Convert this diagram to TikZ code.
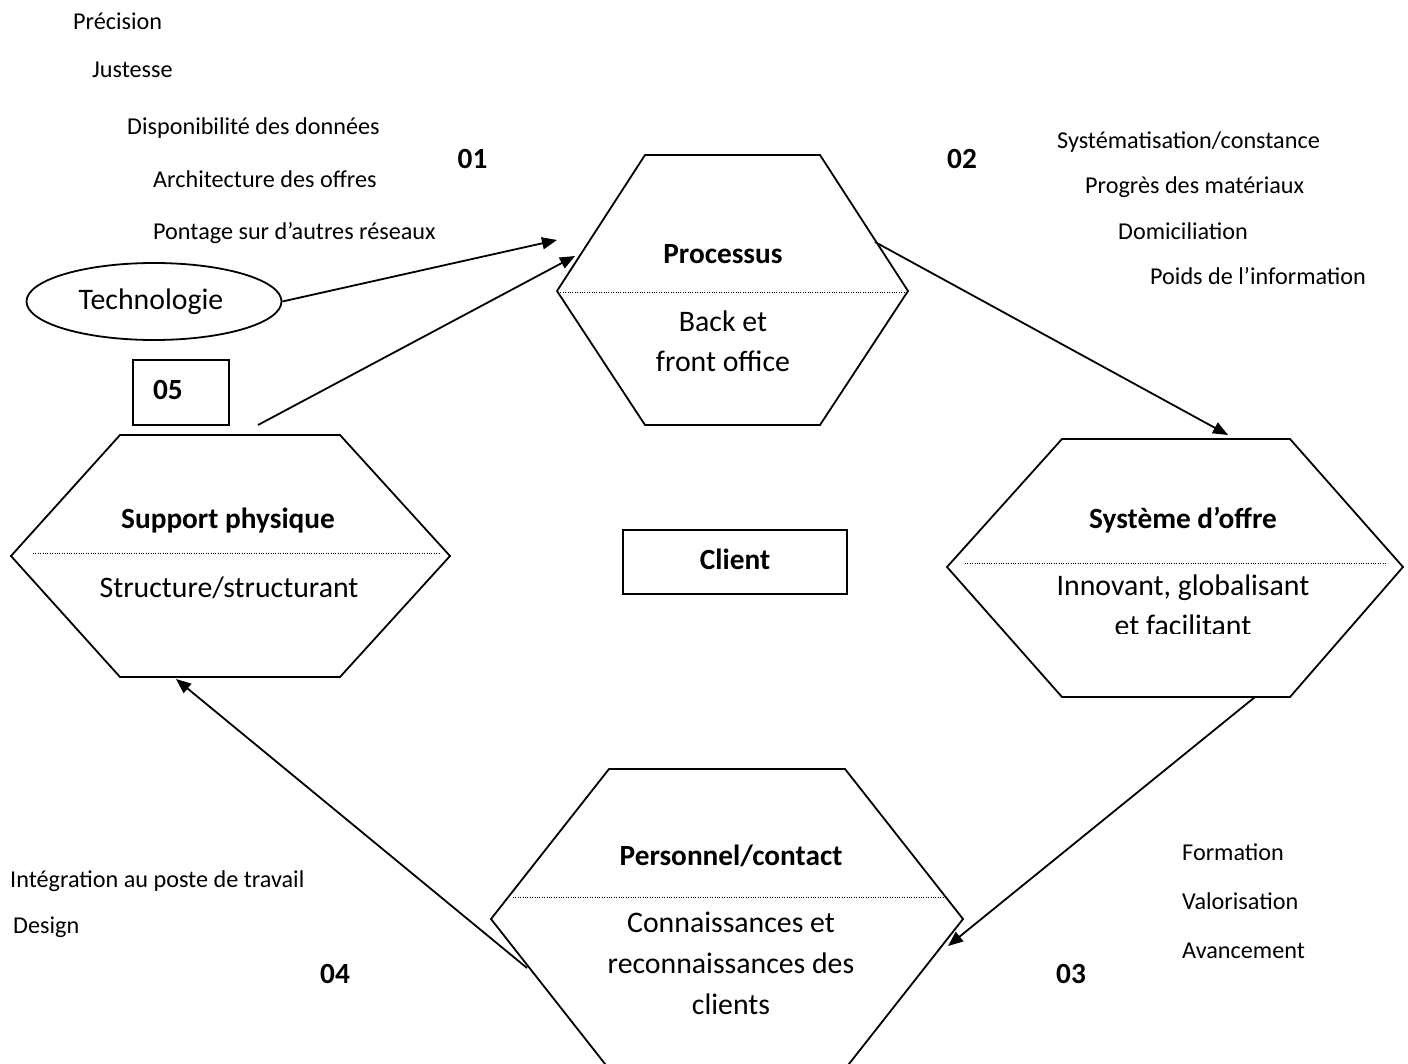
\documentclass[tikz,border=0pt]{standalone}
\usepackage{fontspec}
\setmainfont{Carlito}
\usetikzlibrary{arrows.meta,shapes.geometric}
\begin{document}
\begin{tikzpicture}[x=1pt,y=-1pt,
  hexline/.style={line width=1.8pt, line join=miter},
  sepline/.style={line width=1pt, dash pattern=on 1pt off 1.4pt},
  conn/.style={line width=1.8pt, -{Triangle[length=15pt,width=12pt]}},
  small/.style={inner sep=0pt, anchor=base west, font=\fontsize{24.2}{29}\selectfont},
  big/.style={inner sep=0pt, anchor=base, font=\fontsize{29.8}{36}\selectfont},
  title/.style={inner sep=0pt, anchor=base, font=\fontsize{29.3}{35}\selectfont\bfseries},
  boxed/.style={draw, line width=1.8pt, inner sep=0pt, text height=20pt, text depth=6pt,
    font=\fontsize{29.3}{35}\selectfont\bfseries},
]
\clip (0,0) rectangle (1408,1064);
\fill[white] (0,0) rectangle (1408,1064);

% --- hexagon: Processus
\coordinate (pa) at (645,155);  \coordinate (pb) at (820,155);
\coordinate (pc) at (908,291);  \coordinate (pd) at (820,425);
\coordinate (pe) at (645,425);  \coordinate (pf) at (557,291);
\draw[hexline] (pa) -- (pb) -- (pc) -- (pd) -- (pe) -- (pf) -- cycle;
\draw[sepline] (558,293) -- (906,293);
\node[title] (proc) at (723,264) {Processus};
\node[big] (proc1) at (723,332) {Back et};
\node[big] (proc2) at (723,372) {front office};

% --- hexagon: Support physique
\coordinate (sa) at (120,435);  \coordinate (sb) at (340,435);
\coordinate (sc) at (450,556);  \coordinate (sd) at (340,677);
\coordinate (se) at (120,677);  \coordinate (sf) at (11,556);
\draw[hexline] (sa) -- (sb) -- (sc) -- (sd) -- (se) -- (sf) -- cycle;
\draw[sepline] (33,553) -- (440,553);
\node[title] (supp) at (228,528) {Support physique};
\node[big] (supp1) at (229,597) {Structure/structurant};

% --- hexagon: Système d'offre
\coordinate (oa) at (1062,439); \coordinate (ob) at (1290,439);
\coordinate (oc) at (1403,567); \coordinate (od) at (1290,697);
\coordinate (oe) at (1062,697); \coordinate (of) at (947,567);
\draw[hexline] (oa) -- (ob) -- (oc) -- (od) -- (oe) -- (of) -- cycle;
\draw[sepline] (965,563) -- (1387,563);
\node[title] (offre) at (1183,528) {Système d’offre};
\node[big] (offre1) at (1183,595) {Innovant, globalisant};
\begin{scope}
  \clip (950,600) rectangle (1400,633);
  \node[big] (offre2) at (1183,635) {et facilitant};
\end{scope}

% --- hexagon: Personnel/contact
\coordinate (ka) at (609,769);  \coordinate (kb) at (845,769);
\coordinate (kc) at (963,919);  \coordinate (kd) at (845,1069);
\coordinate (ke) at (609,1069); \coordinate (kf) at (491,919);
\draw[hexline] (ka) -- (kb) -- (kc) -- (kd) -- (ke) -- (kf) -- cycle;
\draw[sepline] (513,897) -- (947,897);
\node[title] (pers) at (731,865) {Personnel/contact};
\node[big] (pers1) at (731,932) {Connaissances et};
\node[big] (pers2) at (731,973) {reconnaissances des};
\node[big] (pers3) at (731,1014) {clients};

% --- centre and side boxes
\node[boxed, minimum width=224pt, minimum height=64pt] (client) at (735,562) {Client};
\node[boxed, text width=96pt, align=left, minimum height=65pt] (n05) at (181,392.5) {\hspace*{20pt}05};
\node[draw, ellipse, line width=1.8pt, inner sep=0pt, minimum width=255pt, minimum height=77pt,
  font=\fontsize{29.8}{36}\selectfont] (tech) at (154,301.5) {\hspace*{-6pt}Technologie};

% --- step numbers
\node[title] (n01) at (472.5,169) {01};
\node[title] (n02) at (962,169) {02};
\node[title] (n03) at (1071,983) {03};
\node[title] (n04) at (335,983) {04};

% --- attribute lists
\node[small] (t1) at (73,30)  {Précision};
\node[small] (t2) at (92,78)  {Justesse};
\node[small] (t3) at (127,135) {Disponibilité des données};
\node[small] (t4) at (153,188) {Architecture des offres};
\node[small] (t5) at (153,240) {Pontage sur d’autres réseaux};

\node[small] (r1) at (1057,149) {Systématisation/constance};
\node[small] (r2) at (1085,194) {Progrès des matériaux};
\node[small] (r3) at (1118,240) {Domiciliation};
\node[small] (r4) at (1150,285) {Poids de l’information};

\node[small] (f1) at (1182,860) {Formation};
\node[small] (f2) at (1182,909) {Valorisation};
\node[small] (f3) at (1182,958) {Avancement};

\node[small] (d1) at (10,887) {Intégration au poste de travail};
\node[small] (d2) at (13,933) {Design};

% --- connector end points
\coordinate (a1e) at (557,240);
\coordinate (a2s) at (258,425);  \coordinate (a2e) at (575,256);
\coordinate (a3s) at (875,242);  \coordinate (a3e) at (1228,435);
\coordinate (a4s) at (1255,697); \coordinate (a4e) at (948,946);
\coordinate (a5s) at (527,968);  \coordinate (a5e) at (176,679);

\draw[conn] (tech.east) -- (a1e);
\draw[conn] (a2s) -- (a2e);
\draw[conn] (a3s) -- (a3e);
\draw[conn] (a4s) -- (a4e);
\draw[conn] (a5s) -- (a5e);
\end{tikzpicture}
\end{document}
